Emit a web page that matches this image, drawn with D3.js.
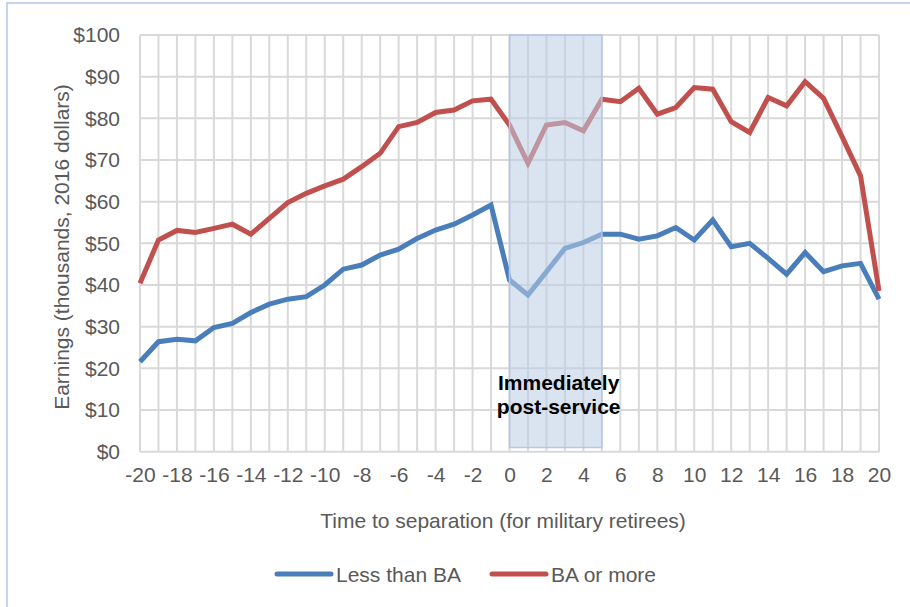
<!DOCTYPE html>
<html>
<head>
<meta charset="utf-8">
<script src="https://cdn.jsdelivr.net/npm/d3@7"></script>
<style>
  html, body { margin: 0; padding: 0; background: #fff; }
  svg { display: block; }
  text { font-family: "Liberation Sans", Arial, sans-serif; }
</style>
</head>
<body>
<svg id="chart" width="910" height="607"></svg>
<script>
// ---- Data ----
const years = d3.range(-20, 21);
const lessThanBA = [21.6, 26.4, 27.0, 26.6, 29.8, 30.8, 33.4, 35.4, 36.6, 37.2,
  40.0, 43.8, 44.8, 47.2, 48.6, 51.2, 53.2, 54.6, 56.8, 59.2,
  41.2, 37.6, 43.2, 48.8, 50.2, 52.2, 52.2, 51.0, 51.8, 53.8,
  50.8, 55.6, 49.2, 50.0, 46.4, 42.6, 47.8, 43.2, 44.6, 45.2, 36.6];
const baOrMore = [40.4, 50.8, 53.1, 52.6, 53.6, 54.6, 52.2, 56.0, 59.8, 62.0,
  63.8, 65.4, 68.4, 71.6, 78.0, 79.0, 81.4, 82.0, 84.2, 84.6,
  78.4, 69.2, 78.4, 79.0, 77.0, 84.6, 84.0, 87.2, 81.0, 82.6,
  87.4, 87.0, 79.2, 76.6, 85.0, 83.0, 88.8, 84.8, 75.6, 66.2, 38.6];
const seriesNames = ["Less than BA", "BA or more"];
const seriesColors = ["#4a7ebb", "#c0504d"];
const xTicks = d3.range(-20, 21, 2);
const yTicks = d3.range(0, 101, 10);
const shadeRange = [0, 5];
const shadeLabel = ["Immediately", "post-service"];
const xTitle = "Time to separation (for military retirees)";
const yTitle = "Earnings (thousands, 2016 dollars)";

// ---- Layout ----
const svg = d3.select("#chart");
const W = 910, H = 607;
const mLeft = 140, mRight = 879, mTop = 35, mBottom = 451.7;
const FS = 21;

const x = d3.scaleLinear().domain([-20, 20]).range([mLeft, mRight]);
const y = d3.scaleLinear().domain([0, 100]).range([mBottom, mTop]);

// outer border
svg.append("rect").attr("x", 7).attr("y", 3).attr("width", W).attr("height", H)
  .attr("fill", "none").attr("stroke", "#b4c7e7").attr("stroke-width", 1.5);

const grid = svg.append("g");
grid.selectAll("line.v").data(years).join("line").attr("class", "v")
  .attr("x1", d => x(d)).attr("x2", d => x(d))
  .attr("y1", y(0)).attr("y2", y(100))
  .attr("stroke", "#d9d9d9").attr("stroke-width", 2);
grid.selectAll("line.h").data(yTicks).join("line").attr("class", "h")
  .attr("x1", x(-20)).attr("x2", x(20))
  .attr("y1", d => y(d)).attr("y2", d => y(d))
  .attr("stroke", "#d9d9d9").attr("stroke-width", 2);

// y axis labels
const yAxis = d3.axisLeft(y).tickValues(yTicks).tickSize(0).tickPadding(0)
  .tickFormat(d => "$" + d);
const gy = svg.append("g").attr("transform", `translate(${mLeft - 20},0)`).call(yAxis);
gy.select(".domain").remove();
gy.selectAll("text").attr("font-size", FS).attr("fill", "#595959")
  .attr("font-family", "'Liberation Sans', Arial, sans-serif");

// x axis labels
const xAxis = d3.axisBottom(x).tickValues(xTicks).tickSize(0).tickPadding(0)
  .tickFormat(d => d);
const gx = svg.append("g").attr("transform", `translate(0,${mBottom + 15})`).call(xAxis);
gx.select(".domain").remove();
gx.selectAll("text").attr("font-size", FS).attr("fill", "#595959")
  .attr("font-family", "'Liberation Sans', Arial, sans-serif");

// lines
const allSeries = [lessThanBA, baOrMore];
const line = d3.line().x((d, i) => x(years[i])).y(d => y(d));
svg.append("g").selectAll("path").data(allSeries).join("path")
  .attr("d", d => line(d))
  .attr("fill", "none")
  .attr("stroke", (d, i) => seriesColors[i])
  .attr("stroke-width", 5)
  .attr("stroke-linejoin", "miter")
  .attr("stroke-linecap", "butt");

// shaded region
svg.append("rect")
  .attr("x", x(shadeRange[0])).attr("y", y(100))
  .attr("width", x(shadeRange[1]) - x(shadeRange[0]))
  .attr("height", y(1) - y(100))
  .attr("fill", "rgb(188,204,228)").attr("fill-opacity", 0.55)
  .attr("stroke", "#b4c7e7").attr("stroke-width", 1.5);

const cx = (x(shadeRange[0]) + x(shadeRange[1])) / 2 + 3;
svg.append("text").attr("x", cx).attr("y", 390).attr("text-anchor", "middle")
  .attr("font-size", FS).attr("font-weight", "bold").attr("fill", "#000").text(shadeLabel[0]);
svg.append("text").attr("x", cx).attr("y", 414).attr("text-anchor", "middle")
  .attr("font-size", FS).attr("font-weight", "bold").attr("fill", "#000").text(shadeLabel[1]);

// axis titles
svg.append("text").attr("x", 503).attr("y", 528).attr("text-anchor", "middle")
  .attr("font-size", FS).attr("fill", "#595959").text(xTitle);
svg.append("text").attr("transform", `translate(69,247) rotate(-90)`)
  .attr("text-anchor", "middle").attr("font-size", FS).attr("fill", "#595959").text(yTitle);

// legend
const legendX = [277, 492];
const lg = svg.append("g").selectAll("g").data(seriesNames).join("g")
  .attr("transform", (d, i) => `translate(${legendX[i]},574)`);
lg.append("line").attr("x1", 0).attr("x2", 54).attr("y1", 0).attr("y2", 0)
  .attr("stroke", (d, i) => seriesColors[i]).attr("stroke-width", 5).attr("stroke-linecap", "round");
lg.append("text").attr("x", 59).attr("y", 7.5).attr("font-size", FS).attr("fill", "#595959")
  .text(d => d);
</script>
</body>
</html>
